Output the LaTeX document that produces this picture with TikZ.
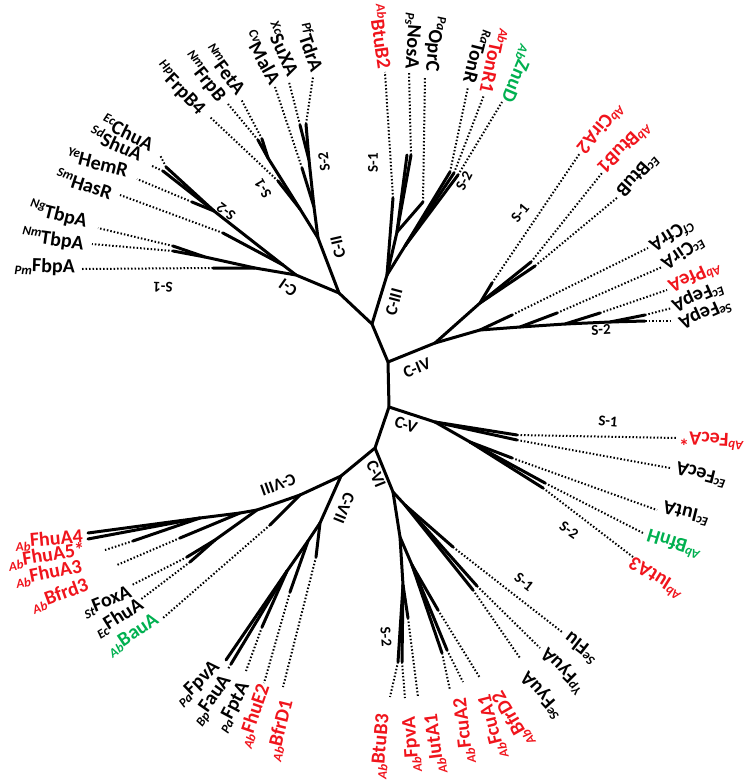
\documentclass[tikz,border=0pt]{standalone}
\usepackage{fontspec}
\setmainfont{Carlito}
\definecolor{abred}{RGB}{240,20,28}
\definecolor{abgreen}{RGB}{0,176,80}
\newcommand{\lblup}[2]{\raisebox{7pt}{\fontsize{13}{13}\selectfont\itshape #1}#2}
\newcommand{\lbldn}[2]{\raisebox{-3.5pt}{\fontsize{13}{13}\selectfont\itshape #1}#2}
\begin{document}
\begin{tikzpicture}[x=1pt,y=-1pt,
  br/.style={line width=3pt, line cap=round, line join=round},
  dl/.style={line width=2pt, dash pattern=on 1.5pt off 2pt},
  lf/.style={font=\fontsize{20}{20}\selectfont\bfseries, anchor=east, inner sep=1pt},
  cl/.style={font=\fontsize{17}{17}\selectfont\bfseries, inner sep=0pt},
  sl/.style={font=\fontsize{15}{15}\selectfont\bfseries, inner sep=0pt},
  rd/.style={text=abred},
  gn/.style={text=abgreen}]
\useasboundingbox (0,0) rectangle (750,784);
% ---------- backbone
\coordinate (R3) at (372,324); \coordinate (R4) at (388,362);
\coordinate (R5) at (389,407); \coordinate (R6) at (375,448);
\coordinate (R78) at (341,476); \coordinate (R12) at (339,293);
\draw[br] (R12) -- (R3) -- (R4) -- (R5) -- (R6) -- (R78);
% ---------- C-I
\coordinate (C1) at (296,275); \coordinate (c1a) at (255,268);
\coordinate (FbpAi) at (213,268); \coordinate (FbpAt) at (82,269);
\coordinate (c1b) at (205,257);
\coordinate (NgTi) at (173,246); \coordinate (NgTt) at (98,228);
\coordinate (NmTi) at (173,251); \coordinate (NmTt) at (92,244);
\coordinate (c1d) at (283,265); \coordinate (HasRi) at (223,233); \coordinate (HasRt) at (120,195);
\coordinate (c1e) at (214,211); \coordinate (HemRi) at (192,202); \coordinate (HemRt) at (137,179);
\coordinate (ShuAi) at (163,171); \coordinate (ShuAt) at (152,166);
\coordinate (ChuAi) at (166,167); \coordinate (ChuAt) at (160,155);
\draw[br] (R12) -- (C1) -- (c1a) -- (FbpAi);
\draw[br] (c1a) -- (c1b) -- (NgTi); \draw[br] (c1b) -- (NmTi);
\draw[br] (C1) -- (c1d) -- (HasRi);
\draw[br] (c1d) -- (c1e) -- (HemRi);
\draw[br] (c1e) -- (ShuAi); \draw[br] (c1e) -- (ChuAi);
\draw[dl] (FbpAi) -- (FbpAt); \draw[dl] (NgTi) -- (NgTt); \draw[dl] (NmTi) -- (NmTt);
\draw[dl] (HasRi) -- (HasRt); \draw[dl] (HemRi) -- (HemRt);
\draw[dl] (ShuAi) -- (ShuAt); \draw[dl] (ChuAi) -- (ChuAt);
% ---------- C-II
\coordinate (C2) at (318,238); \coordinate (c2a) at (300,209);
\coordinate (FrpB4i) at (278,181); \coordinate (FrpB4t) at (210,117);
\coordinate (c2b) at (268,158);
\coordinate (FrpBi) at (258,140); \coordinate (FrpBt) at (228,104);
\coordinate (FetAi) at (262,139); \coordinate (FetAt) at (241,99);
\coordinate (c2c) at (314,207); \coordinate (MalAi) at (302,168); \coordinate (MalAt) at (275,87);
\coordinate (c2d) at (309,160);
\coordinate (SuXAi) at (300,125); \coordinate (SuXAt) at (289,82);
\coordinate (TdrAi) at (306,124); \coordinate (TdrAt) at (313,77);
\draw[br] (R12) -- (C2) -- (c2a) -- (FrpB4i);
\draw[br] (c2a) -- (c2b) -- (FrpBi); \draw[br] (c2b) -- (FetAi);
\draw[br] (C2) -- (c2c) -- (MalAi);
\draw[br] (c2c) -- (c2d) -- (SuXAi); \draw[br] (c2d) -- (TdrAi);
\draw[dl] (FrpB4i) -- (FrpB4t); \draw[dl] (FrpBi) -- (FrpBt); \draw[dl] (FetAi) -- (FetAt);
\draw[dl] (MalAi) -- (MalAt); \draw[dl] (SuXAi) -- (SuXAt); \draw[dl] (TdrAi) -- (TdrAt);
% ---------- C-III
\coordinate (C3) at (387,275);
\coordinate (BtuB2i) at (393,198); \coordinate (BtuB2t) at (385,72);
\coordinate (c3a) at (397,232);
\coordinate (NosAi) at (407,155); \coordinate (NosAj) at (411,155); \coordinate (NosAt) at (409,73);
\coordinate (OprCi) at (423,202); \coordinate (OprCt) at (425,77);
\coordinate (c3d) at (405,246);
\coordinate (TonRi) at (450,172); \coordinate (TonRt) at (468,87);
\coordinate (TonR1i) at (454,173); \coordinate (TonR1t) at (484,95);
\coordinate (ZnuDi) at (458,175); \coordinate (ZnuDt) at (502,102);
\draw[br] (R3) -- (C3) -- (BtuB2i);
\draw[br] (C3) -- (c3a) -- (NosAi); \draw[br] (c3a) -- (NosAj); \draw[br] (c3a) -- (OprCi);
\draw[br] (C3) -- (c3d) -- (TonRi); \draw[br] (c3d) -- (TonR1i); \draw[br] (c3d) -- (ZnuDi);
\draw[dl] (BtuB2i) -- (BtuB2t); \draw[dl] (NosAj) -- (NosAt); \draw[dl] (OprCi) -- (OprCt);
\draw[dl] (TonRi) -- (TonRt); \draw[dl] (TonR1i) -- (TonR1t); \draw[dl] (ZnuDi) -- (ZnuDt);
% ---------- C-IV
\coordinate (C4) at (435,343); \coordinate (c4a) at (480,303);
\coordinate (CirA2i) at (492,283); \coordinate (CirA2t) at (580,153);
\coordinate (BtuB1i) at (531,262); \coordinate (BtuB1t) at (602,173);
\coordinate (BtuBi) at (535,266); \coordinate (BtuBt) at (618,197);
\coordinate (c4c) at (480,330);
\coordinate (CfrAi) at (512,315); \coordinate (CfrAt) at (648,248);
\coordinate (c4d) at (520,327); \coordinate (CirAi) at (557,313); \coordinate (CirAt) at (662,267);
\coordinate (c4e) at (565,324); \coordinate (PfeAi) at (600,313); \coordinate (PfeAt) at (667,290);
\coordinate (c4f) at (610,322);
\coordinate (EFepAi) at (645,315); \coordinate (EFepAt) at (672,308);
\coordinate (SFepAi) at (645,321); \coordinate (SFepAt) at (672,321);
\draw[br] (R4) -- (C4) -- (c4a) -- (CirA2i);
\draw[br] (c4a) -- (BtuB1i); \draw[br] (c4a) -- (BtuBi);
\draw[br] (C4) -- (c4c) -- (CfrAi);
\draw[br] (c4c) -- (c4d) -- (CirAi);
\draw[br] (c4d) -- (c4e) -- (PfeAi);
\draw[br] (c4e) -- (c4f) -- (EFepAi); \draw[br] (c4f) -- (SFepAi);
\draw[dl] (CirA2i) -- (CirA2t); \draw[dl] (BtuB1i) -- (BtuB1t); \draw[dl] (BtuBi) -- (BtuBt);
\draw[dl] (CfrAi) -- (CfrAt); \draw[dl] (CirAi) -- (CirAt); \draw[dl] (PfeAi) -- (PfeAt);
\draw[dl] (EFepAi) -- (EFepAt); \draw[dl] (SFepAi) -- (SFepAt);
% ---------- C-V
\coordinate (C5) at (435,422);
\coordinate (AFecAi) at (517,435); \coordinate (AFecAt) at (677,438);
\coordinate (EFecAi) at (517,440); \coordinate (EFecAt) at (670,468);
\coordinate (c5a) at (470,442);
\coordinate (IutAi) at (512,458); \coordinate (IutAt) at (657,510);
\coordinate (BfnHi) at (545,483); \coordinate (BfnHt) at (643,533);
\coordinate (IutA3i) at (543,488); \coordinate (IutA3t) at (633,557);
\draw[br] (R5) -- (C5) -- (AFecAi); \draw[br] (C5) -- (EFecAi);
\draw[br] (C5) -- (c5a) -- (IutAi); \draw[br] (c5a) -- (BfnHi); \draw[br] (c5a) -- (IutA3i);
\draw[dl] (AFecAi) -- (AFecAt); \draw[dl] (EFecAi) -- (EFecAt); \draw[dl] (IutAi) -- (IutAt);
\draw[dl] (BfnHi) -- (BfnHt); \draw[dl] (IutA3i) -- (IutA3t);
% ---------- C-VI
\coordinate (C6) at (393,492); \coordinate (c6a) at (405,505);
\coordinate (Flui) at (453,547); \coordinate (Flut) at (562,632);
\coordinate (YFyuAi) at (477,586); \coordinate (YFyuAt) at (540,648);
\coordinate (SFyuAi) at (473,590); \coordinate (SFyuAt) at (520,658);
\coordinate (c6b) at (400,537); \coordinate (c6c) at (403,585);
\coordinate (IutA1i) at (408,618); \coordinate (IutA1t) at (418,697);
\coordinate (BtuB3i) at (398,662); \coordinate (BtuB3t) at (390,697);
\coordinate (AFpvAi) at (402,662); \coordinate (AFpvAt) at (405,698);
\coordinate (c6d) at (412,565);
\coordinate (BfrD2i) at (438,610); \coordinate (BfrD2t) at (480,678);
\coordinate (FcuA2i) at (442,653); \coordinate (FcuA2t) at (450,690);
\coordinate (FcuA1i) at (447,650); \coordinate (FcuA1t) at (463,682);
\draw[br] (R6) -- (C6) -- (c6a) -- (Flui);
\draw[br] (c6a) -- (YFyuAi); \draw[br] (c6a) -- (SFyuAi);
\draw[br] (C6) -- (c6b) -- (c6c) -- (IutA1i);
\draw[br] (c6c) -- (BtuB3i); \draw[br] (c6c) -- (AFpvAi);
\draw[br] (c6b) -- (c6d) -- (BfrD2i); \draw[br] (c6d) -- (FcuA2i); \draw[br] (c6d) -- (FcuA1i);
\draw[dl] (Flui) -- (Flut); \draw[dl] (YFyuAi) -- (YFyuAt); \draw[dl] (SFyuAi) -- (SFyuAt);
\draw[dl] (IutA1i) -- (IutA1t); \draw[dl] (BtuB3i) -- (BtuB3t); \draw[dl] (AFpvAi) -- (AFpvAt);
\draw[dl] (BfrD2i) -- (BfrD2t); \draw[dl] (FcuA2i) -- (FcuA2t); \draw[dl] (FcuA1i) -- (FcuA1t);
% ---------- C-VII
\coordinate (C7) at (320,523);
\coordinate (BfrD1i) at (316,557); \coordinate (BfrD1t) at (283,687);
\coordinate (c7a) at (308,541);
\coordinate (FhuE2i) at (290,592); \coordinate (FhuE2t) at (264,683);
\coordinate (c7b) at (287,571);
\coordinate (FptAi) at (262,627); \coordinate (FptAt) at (246,671);
\coordinate (PFpvAi) at (226,660); \coordinate (FauAi) at (231,664); \coordinate (FauAt) at (228,669);
\draw[br] (R78) -- (C7) -- (BfrD1i);
\draw[br] (C7) -- (c7a) -- (FhuE2i);
\draw[br] (c7a) -- (c7b) -- (FptAi);
\draw[br] (c7b) -- (PFpvAi); \draw[br] (c7b) -- (FauAi);
\draw[dl] (BfrD1i) -- (BfrD1t); \draw[dl] (FhuE2i) -- (FhuE2t); \draw[dl] (FptAi) -- (FptAt);
\draw[dl] (FauAi) -- (FauAt);
% ---------- C-VIII
\coordinate (C8) at (300,495);
\coordinate (BauAi) at (270,525); \coordinate (BauAt) at (163,618);
\coordinate (c8a) at (257,510); \coordinate (c8b) at (215,540);
\coordinate (FoxAi) at (187,557); \coordinate (FoxAt) at (132,585);
\coordinate (FhuAi) at (190,562); \coordinate (FhuAt) at (140,600);
\coordinate (c8c) at (240,513);
\coordinate (Bfrd3i) at (180,538); \coordinate (Bfrd3t) at (117,565);
\coordinate (c8d) at (200,518);
\coordinate (FhuA3i) at (133,541); \coordinate (FhuA3t) at (105,550);
\coordinate (FhuA4i) at (88,533); \coordinate (FhuA5i) at (88,539);
\draw[br] (R78) -- (C8) -- (BauAi);
\draw[br] (C8) -- (c8a) -- (c8b) -- (FoxAi); \draw[br] (c8b) -- (FhuAi);
\draw[br] (c8a) -- (c8c) -- (Bfrd3i);
\draw[br] (c8c) -- (c8d) -- (FhuA3i);
\draw[br] (c8d) -- (FhuA4i); \draw[br] (c8d) -- (FhuA5i);
\draw[dl] (BauAi) -- (BauAt); \draw[dl] (FoxAi) -- (FoxAt); \draw[dl] (FhuAi) -- (FhuAt);
\draw[dl] (Bfrd3i) -- (Bfrd3t); \draw[dl] (FhuA3i) -- (FhuA3t);
% ---------- clade labels
\node[cl, rotate=145] (lC1) at (288,288) {C-I};
\node[cl, rotate=103] (lC2) at (338,247) {C-II};
\node[cl, rotate=75] (lC3) at (394,302) {C-III};
\node[cl, rotate=22] (lC4) at (417,368) {C-IV};
\node[cl, rotate=-18] (lC5) at (406,425) {C-V};
\node[cl, rotate=-68] (lC6) at (376,474) {C-VI};
\node[cl, rotate=-112] (lC7) at (344,508) {C-VII};
\node[cl, rotate=200] (lC8) at (278,485) {C-VIII};
% ---------- subclade labels
\node[sl, rotate=178] (s11) at (163,287) {S-1};
\node[sl, rotate=143] (s12) at (226,212) {S-2};
\node[sl, rotate=120] (s21) at (263,189) {S-1};
\node[sl, rotate=97] (s22) at (324,162) {S-2};
\node[sl, rotate=90] (s31) at (373,163) {S-1};
\node[sl, rotate=62] (s32) at (464,181) {S-2};
\node[sl, rotate=50] (s41) at (520,213) {S-1};
\node[sl, rotate=3] (s42) at (601,330) {S-2};
\node[sl, rotate=-5] (s51) at (608,421) {S-1};
\node[sl, rotate=-35] (s52) at (569,530) {S-2};
\node[sl, rotate=-38] (s61) at (524,582) {S-1};
\node[sl, rotate=-85] (s62) at (386,637) {S-2};
% ---------- leaf labels
% C-I
\node[lf, rotate=-26] (lChuA) at (154,145) {\lblup{Ec}{ChuA}};
\node[lf, rotate=-24] (lShuA) at (143,155) {\lblup{Sd}{ShuA}};
\node[lf, rotate=-14] (lHemR) at (129,170) {\lblup{Ye}{HemR}};
\node[lf, rotate=-18] (lHasR) at (113,193) {\lblup{Sm}{HasR}};
\node[lf, rotate=-14] (lNgT) at (88,222) {\lblup{Ng}{TbpA}};
\node[lf, rotate=-8] (lNmT) at (85,244) {\lblup{Nm}{TbpA}};
\node[lf, rotate=-2] (lFbpA) at (76,268) {\lbldn{Pm}{FbpA}};
% C-II
\node[lf, rotate=-46] (lFrpB4) at (203,112) {\lblup{Hp}{FrpB4}};
\node[lf, rotate=-51] (lFrpB) at (223,100) {\lblup{Nm}{FrpB}};
\node[lf, rotate=-53] (lFetA) at (243,93) {\lblup{Nm}{FetA}};
\node[lf, rotate=-61] (lMalA) at (277,83) {\lblup{Cv}{MalA}};
\node[lf, rotate=-65] (lSuXA) at (295,75) {\lblup{Xc}{SuXA}};
\node[lf, rotate=-71] (lTdrA) at (319,72) {\lblup{Pf}{TdrA}};
% C-III
\node[lf, rd, rotate=-82] (lBtuB2) at (386,70) {\lblup{Ab}{BtuB2}};
\node[lf, rotate=-94] (lNosA) at (410,70) {\lbldn{Ps}{NosA}};
\node[lf, rotate=-95] (lOprC) at (432,73) {\lblup{Pa}{OprC}};
\node[lf, rotate=-104] (lTonR) at (470,84) {\lblup{Ra}{TonR}};
\node[lf, rd, rotate=-102] (lTonR1) at (487,94) {\lblup{Ab}{TonR1}};
\node[lf, gn, rotate=-113] (lZnuD) at (505,102) {\lbldn{Ab}{ZnuD}};
% C-IV
\node[lf, rd, rotate=-130] (lCirA2) at (581,153) {\lblup{Ab}{CirA2}};
\node[lf, rd, rotate=-135] (lBtuB1) at (601,172) {\lblup{Ab}{BtuB1}};
\node[lf, rotate=-132] (lBtuB) at (620,196) {\lblup{Ec}{BtuB}};
\node[lf, rotate=-148] (lCfrA) at (651,249) {\lblup{Cf}{CfrA}};
\node[lf, rotate=-146] (lCirA) at (663,267) {\lblup{Ec}{CirA}};
\node[lf, rd, rotate=-156] (lPfeA) at (669,289) {\lblup{Ab}{PfeA}};
\node[lf, rotate=-156] (lEFepA) at (672,308) {\lblup{Ec}{FepA}};
\node[lf, rotate=-156] (lSFepA) at (679,325) {\lblup{Se}{FepA}};
% C-V
\node[lf, rd, rotate=177] (lAFecA) at (678,439) {\lblup{Ab}{FecA*}};
\node[lf, rotate=166] (lEFecA) at (675,469) {\lblup{Ec}{FecA}};
\node[lf, rotate=166] (lIutA) at (662,508) {\lblup{Ec}{IutA}};
\node[lf, gn, rotate=163] (lBfnH) at (646,536) {\lblup{Ab}{BfnH}};
\node[lf, rd, rotate=148] (lIutA3) at (629,562) {\lblup{Ab}{IutA3}};
% C-VI
\node[lf, rotate=142] (lFlu) at (565,636) {\lblup{Se}{Flu}};
\node[lf, rotate=135] (lYFyuA) at (543,650) {\lblup{Yp}{FyuA}};
\node[lf, rotate=132] (lSFyuA) at (523,674) {\lblup{Se}{FyuA}};
\node[lf, rd, rotate=120] (lBfrD2) at (497,691) {\lbldn{Ab}{BfrD2}};
\node[lf, rd, rotate=104] (lFcuA1) at (485,694) {\lbldn{Ab}{FcuA1}};
\node[lf, rd, rotate=96] (lFcuA2) at (461,697) {\lbldn{Ab}{FcuA2}};
\node[lf, rd, rotate=97] (lIutA1) at (432,713) {\lbldn{Ab}{IutA1}};
\node[lf, rd, rotate=94] (lAFpvA) at (410,716) {\lbldn{Ab}{FpvA}};
\node[lf, rd, rotate=85] (lBtuB3) at (384,713) {\lbldn{Ab}{BtuB3}};
% C-VII
\node[lf, rd, rotate=76] (lBfrD1) at (288,699) {\lbldn{Ab}{BfrD1}};
\node[lf, rd, rotate=71] (lFhuE2) at (265,684) {\lbldn{Ab}{FhuE2}};
\node[lf, rotate=62] (lFptA) at (246,683) {\lbldn{Pa}{FptA}};
\node[lf, rotate=55] (lFauA) at (229,677) {\lbldn{Bp}{FauA}};
\node[lf, rotate=44] (lPFpvA) at (218,664) {\lbldn{Pa}{FpvA}};
% C-VIII
\node[lf, gn, rotate=34] (lBauA) at (158,618) {\lbldn{Ab}{BauA}};
\node[lf, rotate=32] (lFhuA) at (143,603) {\lbldn{Ec}{FhuA}};
\node[lf, rotate=22] (lFoxA) at (132,592) {\lbldn{St}{FoxA}};
\node[lf, rd, rotate=20] (lBfrd3) at (89,585) {\lbldn{Ab}{Bfrd3}};
\node[lf, rd, rotate=11] (lFhuA3) at (83,567) {\lbldn{Ab}{FhuA3}};
\node[lf, rd, rotate=9] (lFhuA5) at (86,550) {\lbldn{Ab}{FhuA5*}};
\node[lf, rd, rotate=5] (lFhuA4) at (84,537) {\lbldn{Ab}{FhuA4}};
\end{tikzpicture}
\end{document}
